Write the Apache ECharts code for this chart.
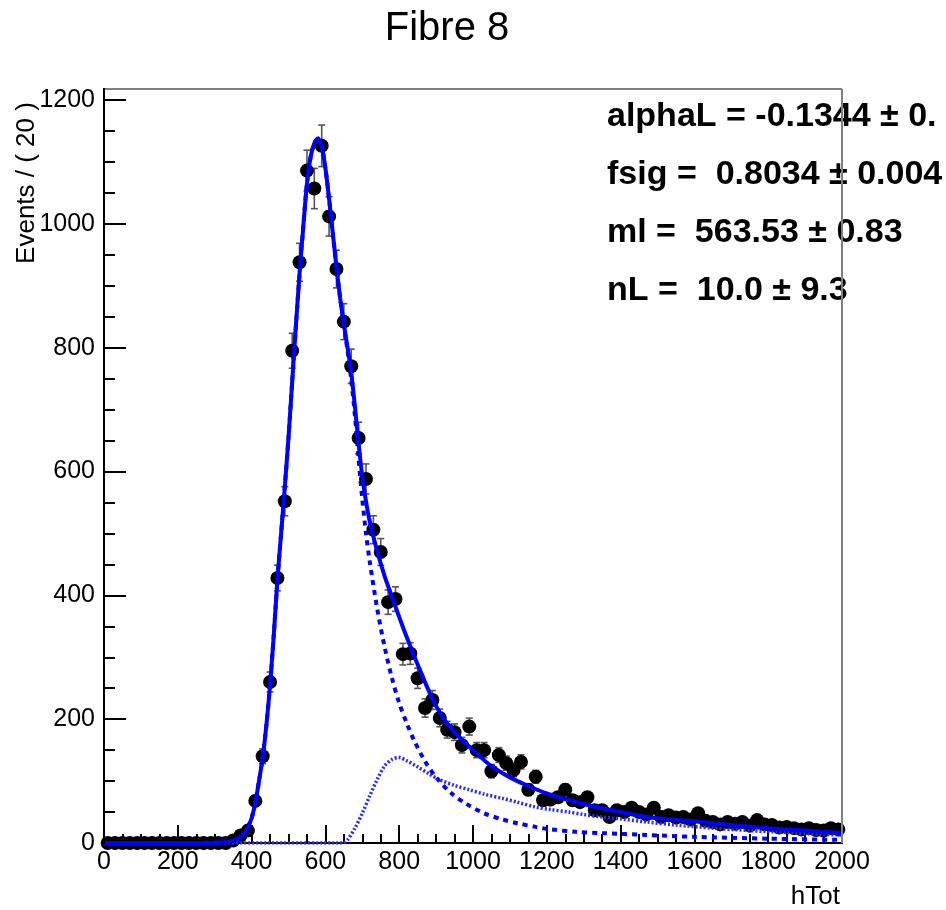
<!DOCTYPE html>
<html>
<head>
<meta charset="utf-8">
<title>Fibre 8</title>
<script src="https://cdn.jsdelivr.net/npm/echarts@6/dist/echarts.min.js"></script>
<style>
  html, body { margin: 0; padding: 0; background: #fff; }
  #chart { width: 946px; height: 910px; }
</style>
</head>
<body>
<div id="chart"></div>
<script>
// histogram: bin centres (bin width 20) and event counts
const binCenters = [
  10, 30, 50, 70, 90, 110, 130, 150, 170, 190,
  210, 230, 250, 270, 290, 310, 330, 350, 370, 390,
  410, 430, 450, 470, 490, 510, 530, 550, 570, 590,
  610, 630, 650, 670, 690, 710, 730, 750, 770, 790,
  810, 830, 850, 870, 890, 910, 930, 950, 970, 990,
  1010, 1030, 1050, 1070, 1090, 1110, 1130, 1150, 1170, 1190,
  1210, 1230, 1250, 1270, 1290, 1310, 1330, 1350, 1370, 1390,
  1410, 1430, 1450, 1470, 1490, 1510, 1530, 1550, 1570, 1590,
  1610, 1630, 1650, 1670, 1690, 1710, 1730, 1750, 1770, 1790,
  1810, 1830, 1850, 1870, 1890, 1910, 1930, 1950, 1970, 1990
]
const counts = [
  0, 0, 0, 0, 0, 0, 0, 0, 0, 0,
  0, 0, 0, 0, 0, 0, 0, 4, 12, 20,
  68, 140, 260, 428, 552, 795, 938, 1086, 1057, 1126,
  1012, 927, 842, 770, 654, 588, 506, 470, 389, 394,
  305, 306, 266, 218, 231, 202, 183, 179, 158, 188,
  150, 150, 116, 142, 129, 118, 131, 86, 107, 69,
  70, 74, 86, 69, 66, 74, 53, 53, 42, 53,
  50, 57, 50, 46, 57, 42, 45, 41, 42, 38,
  48, 36, 34, 30, 34, 31, 34, 28, 37, 30,
  29, 25, 26, 24, 22, 24, 21, 20, 24, 22
]

// fitted pdf (total)
const fitX = [0, 100, 200, 300, 340, 360, 380, 390,
  400, 410, 420, 430, 440, 450, 460, 470, 480, 490, 500, 510, 520, 530, 540, 550, 560,
  570, 580, 590, 600, 610, 620, 630, 640, 650, 660, 670, 680, 690, 700, 710, 720,
  740, 760, 780, 800, 820, 840, 860, 880, 900, 925, 950, 975, 1000,
  1050, 1100, 1150, 1200, 1250, 1300, 1350, 1400, 1450, 1500,
  1600, 1700, 1800, 1900, 2000]
const fitTotal = [0, 0, 0, 0.5, 2, 6, 16, 26,
  40, 65, 100, 138, 190, 255, 335, 425, 500, 575, 655, 745, 835, 920, 995, 1065, 1108,
  1130, 1138, 1125, 1090, 1040, 985, 930, 880, 838, 800, 760, 705, 645, 592, 552, 520,
  472, 432, 398, 365, 333, 303, 274, 246, 221, 197, 179, 164, 150,
  124, 106, 92, 80, 71, 63, 56, 50, 44, 40,
  35, 29, 24, 20, 16]

// signal component (dashed)
const sigX = [0, 100, 200, 300, 340, 360, 380, 390,
  400, 410, 420, 430, 440, 450, 460, 470, 480, 490, 500, 510, 520, 530, 540, 550, 560,
  570, 580, 590, 600, 610, 620, 630, 640, 650, 660, 670, 680, 690, 700, 710, 720,
  740, 760, 780, 800, 820, 840, 870, 900, 940, 980, 1030, 1080, 1120, 1170, 1210,
  1280, 1350, 1470, 1600, 1800, 2000]
const sigY = [0, 0, 0, 0.5, 2, 6, 16, 26,
  40, 65, 100, 138, 190, 255, 335, 425, 500, 575, 655, 745, 835, 920, 995, 1065, 1108,
  1130, 1138, 1125, 1090, 1040, 985, 930, 880, 837, 795, 748, 690, 620, 555, 500, 455,
  380, 318, 267, 226, 194, 166, 132, 106, 81, 64, 48, 38, 32, 26, 22,
  18, 16, 13, 10, 7, 5]

// background component (dotted)
const bgX = [0, 640, 650, 660, 680, 700, 720, 740, 760, 780, 800, 820, 850, 880, 910, 950,
  990, 1030, 1080, 1120, 1170, 1210, 1260, 1300, 1350, 1400, 1470, 1550, 1650, 1750, 1850, 1950, 2000]
const bgY = [0, 0, 1, 5, 24, 48, 76, 102, 124, 135, 138, 133, 123, 112, 102, 93,
  86, 79, 72, 66, 58, 54, 50, 46, 42, 39, 34, 29, 24, 20, 17, 14, 13]

const fitParams = [
  'alphaL = -0.1344 \u00b1 0.',
  'fsig =  0.8034 \u00b1 0.004',
  'ml =  563.53 \u00b1 0.83',
  'nL =  10.0 \u00b1 9.3'
]

const FONT = '"Liberation Sans", Arial, Helvetica, sans-serif'
const BLUE = '#0000ff'

const zip = (xs, ys) => xs.map((x, i) => [x, ys[i]])

const points = zip(binCenters, counts)
// poisson-ish error bars, empty bins get the usual 0..1.15 interval
const errBars = binCenters.map((x, i) => {
  const n = counts[i]
  const e = Math.sqrt(n)
  return n > 0 ? [x, n - e, n + e] : [x, 0, 1.15]
})

const chart = echarts.init(document.getElementById('chart'), null, { renderer: 'canvas' })

chart.setOption({
  animation: false,
  backgroundColor: '#fff',
  grid: {
    left: 104,
    top: 100,
    width: 738,
    height: 743,
    outerBoundsMode: 'none'
  },
  xAxis: {
    type: 'value',
    min: 0,
    max: 2000,
    interval: 200,
    axisLine: { lineStyle: { color: '#000', width: 2 } },
    axisTick: { inside: true, length: 18, lineStyle: { color: '#000', width: 2 } },
    minorTick: { show: true, splitNumber: 4, length: 9, lineStyle: { color: '#000', width: 2 } },
    splitLine: { show: false },
    axisLabel: { fontSize: 25, color: '#000', margin: 7, fontFamily: FONT, formatter: v => String(v) }
  },
  yAxis: {
    type: 'value',
    min: 0,
    max: 1200,
    interval: 200,
    axisLine: { show: false },
    axisTick: { inside: true, length: 22, lineStyle: { color: '#000', width: 2 } },
    minorTick: { show: true, splitNumber: 4, length: 11, lineStyle: { color: '#000', width: 2 } },
    splitLine: { show: false },
    axisLabel: { fontSize: 25, color: '#000', margin: 9, fontFamily: FONT, formatter: v => String(v) }
  },
  series: [
    {
      type: 'custom',
      name: 'errors',
      z: 2,
      data: errBars,
      renderItem(params, api) {
        const x = api.value(0)
        const lo = api.coord([x, api.value(1)])
        const hi = api.coord([x, api.value(2)])
        const cap = 3.5
        const style = { stroke: '#555', lineWidth: 1.6 }
        return {
          type: 'group',
          children: [
            { type: 'line', shape: { x1: lo[0], y1: lo[1], x2: hi[0], y2: hi[1] }, style },
            { type: 'line', shape: { x1: lo[0] - cap, y1: lo[1], x2: lo[0] + cap, y2: lo[1] }, style },
            { type: 'line', shape: { x1: hi[0] - cap, y1: hi[1], x2: hi[0] + cap, y2: hi[1] }, style }
          ]
        }
      }
    },
    {
      type: 'scatter',
      name: 'data',
      z: 3,
      symbol: 'circle',
      symbolSize: 14,
      itemStyle: { color: '#000', opacity: 1 },
      data: points
    },
    {
      type: 'line',
      name: 'bkg',
      z: 4,
      smooth: 0.3,
      showSymbol: false,
      lineStyle: { color: '#2a2aff', width: 3.5, type: [2, 2] },
      data: zip(bgX, bgY)
    },
    {
      type: 'line',
      name: 'sig',
      z: 4,
      smooth: 0.3,
      showSymbol: false,
      lineStyle: { color: BLUE, width: 4, type: [5, 5] },
      data: zip(sigX, sigY)
    },
    {
      type: 'line',
      name: 'total',
      z: 5,
      smooth: 0.3,
      showSymbol: false,
      lineStyle: { color: BLUE, width: 4 },
      data: zip(fitX, fitTotal)
    }
  ],
  graphic: [
    // frame: grey top/right, black left
    { type: 'line', z: 10, shape: { x1: 104, y1: 89, x2: 842, y2: 89 }, style: { stroke: '#808080', lineWidth: 2 } },
    { type: 'line', z: 10, shape: { x1: 842, y1: 89, x2: 842, y2: 843 }, style: { stroke: '#808080', lineWidth: 2 } },
    { type: 'line', z: 10, shape: { x1: 104, y1: 88, x2: 104, y2: 844 }, style: { stroke: '#000', lineWidth: 2 } },
    {
      type: 'text', z: 10, x: 447, y: 29,
      style: { text: 'Fibre 8', fontSize: 40, fontFamily: FONT, fill: '#000', align: 'center', verticalAlign: 'middle' }
    },
    {
      type: 'text', z: 10, x: 27, y: 183, rotation: Math.PI / 2,
      style: { text: 'Events / ( 20 )', fontSize: 26, fontFamily: FONT, fill: '#000', align: 'center', verticalAlign: 'middle' }
    },
    {
      type: 'text', z: 10, x: 840, y: 897,
      style: { text: 'hTot', fontSize: 26, fontFamily: FONT, fill: '#000', align: 'right', verticalAlign: 'middle' }
    },
    ...fitParams.map((t, i) => ({
      type: 'text', z: 9, x: 607, y: 117 + i * 58,
      style: { text: t, fontSize: 34, fontWeight: 'bold', fontFamily: FONT, fill: '#000', align: 'left', verticalAlign: 'middle' }
    }))
  ]
})
</script>
</body>
</html>
